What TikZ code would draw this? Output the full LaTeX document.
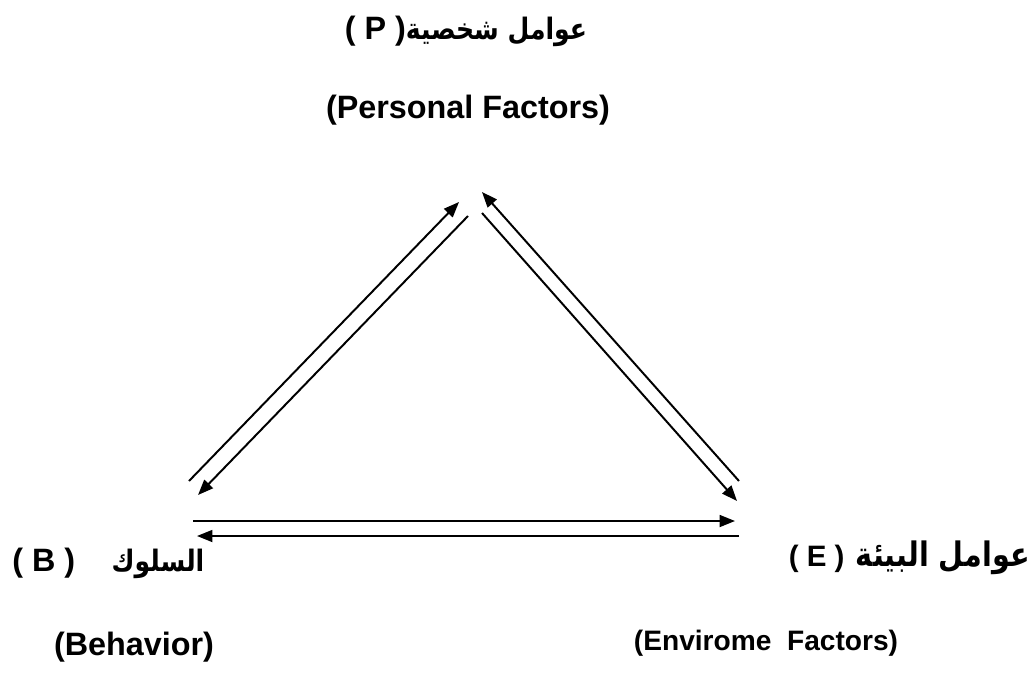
\documentclass[tikz,border=0pt]{standalone}
\usepackage{fontspec}
\setmainfont{Liberation Sans}
\newfontfamily\arabicfont[Script=Arabic,FakeStretch=0.85]{DejaVu Sans}
\TeXXeTstate=1
\usetikzlibrary{arrows.meta}
\newcommand{\fsz}[1]{\fontsize{#1}{#1}\selectfont}
\begin{document}
\begin{tikzpicture}[x=0.025cm,y=-0.025cm,font=\bfseries,
	lbl/.style={inner sep=0pt},
	arr/.style={line width=1.4pt,-{Triangle[length=11pt,width=8.5pt]}}]
	\useasboundingbox (0,0) rectangle (1032,672);
	% factor labels
	\node[lbl] (pa) at (466,31) {\arabicfont\fsz{21}\beginR عوامل شخصية\beginL\rmfamily\fsz{23}( P )\endL\endR};
	\node[lbl] (pe) at (468,110) {\fsz{23}(Personal Factors)};
	\node[lbl,anchor=west] (ba) at (12,563) {\arabicfont\fsz{21}\beginR السلوك\hspace{26pt}\beginL\rmfamily\fsz{23}( B )\endL\endR};
	\node[lbl] (be) at (134,647) {\fsz{23}(Behavior)};
	\node[lbl,anchor=east] (ea) at (1030,558) {\arabicfont\fsz{24}\beginR عوامل البيئة\hspace{8pt}\beginL\rmfamily\fsz{21}( E )\endL\endR};
	\node[lbl] (ee) at (766,643) {\fsz{20}(Envirome\ \ Factors)};
	% arrow ends
	\coordinate (b1) at (189,481); \coordinate (p1) at (459,202);
	\coordinate (p2) at (468,216); \coordinate (b2) at (198,495);
	\coordinate (e1) at (739,481); \coordinate (p3) at (482,192);
	\coordinate (p4) at (482,213); \coordinate (e2) at (737,501);
	\coordinate (b3) at (193,521); \coordinate (e3) at (735,521);
	\coordinate (e4) at (739,536); \coordinate (b4) at (197,536);
	\foreach \a/\b in {b1/p1,p2/b2,e1/p3,p4/e2,b3/e3,e4/b4}
		\draw[arr] (\a) -- (\b);
\end{tikzpicture}
\end{document}
